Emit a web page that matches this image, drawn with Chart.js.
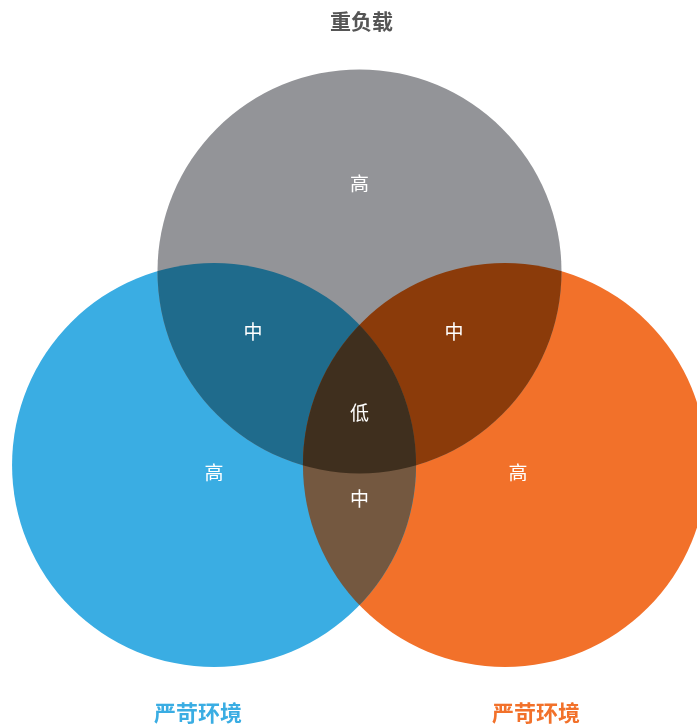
<!DOCTYPE html>
<html>
<head>
<meta charset="utf-8">
<script src="https://cdn.jsdelivr.net/npm/chart.js@4/dist/chart.umd.min.js"></script>
<style>
  html, body { margin: 0; padding: 0; background: #ffffff; }
  #wrap { width: 697px; height: 727px; position: relative; }
</style>
</head>
<body>
<div id="wrap"><canvas id="c"></canvas></div>
<script>
// ---- Data (Venn units: circle radius = 1) ----
const circleNames  = ['重负载', '严苛环境', '严苛环境'];
const circleX      = [0, -0.72, 0.72];
const circleY      = [0.958, 0, 0];
const circleR      = [1, 1, 1];
const circleColors = ['#939498', '#3AADE3', '#F2712A'];

// pairwise overlaps and centre
const pairs        = [[0, 1], [0, 2], [1, 2]];
const pairColors   = ['#1F6B8C', '#8B3B0A', '#745840'];
const centreColor  = '#3F2F1E';

// region labels
const regionLabels = ['高', '高', '高', '中', '中', '中', '低'];
const regionX      = [0, -0.72, 0.785, -0.527, 0.468, 0, 0];
const regionY      = [1.391, -0.04, -0.04, 0.658, 0.658, -0.168, 0.257];

// set name label anchors
const nameX        = [0.01, -0.80, 0.874];
const nameY        = [2.198, -1.228, -1.228];
const nameColors   = ['#555555', '#3AADE3', '#F2712A'];

const FONT = '"Noto Sans CJK SC", "Noto Sans", sans-serif';

function radiusPx(chart, r) {
  const s = chart.scales.x;
  return Math.abs(s.getPixelForValue(r) - s.getPixelForValue(0));
}
function circlePath(chart, i) {
  const ctx = chart.ctx;
  const cx = chart.scales.x.getPixelForValue(circleX[i]);
  const cy = chart.scales.y.getPixelForValue(circleY[i]);
  ctx.beginPath();
  ctx.arc(cx, cy, radiusPx(chart, circleR[i]), 0, Math.PI * 2);
  ctx.closePath();
}

const vennPlugin = {
  id: 'venn',
  afterDatasetsDraw(chart) {
    const ctx = chart.ctx;
    const xs = chart.scales.x, ys = chart.scales.y;
    // pair overlaps
    pairs.forEach((p, k) => {
      ctx.save();
      circlePath(chart, p[0]);
      ctx.clip();
      circlePath(chart, p[1]);
      ctx.fillStyle = pairColors[k];
      ctx.fill();
      ctx.restore();
    });
    // centre
    ctx.save();
    circlePath(chart, 0); ctx.clip();
    circlePath(chart, 1); ctx.clip();
    circlePath(chart, 2);
    ctx.fillStyle = centreColor;
    ctx.fill();
    ctx.restore();

    // region labels
    ctx.save();
    ctx.textAlign = 'center';
    ctx.textBaseline = 'middle';
    ctx.fillStyle = '#ffffff';
    ctx.font = '19px ' + FONT;
    regionLabels.forEach((t, i) => {
      ctx.fillText(t, xs.getPixelForValue(regionX[i]), ys.getPixelForValue(regionY[i]));
    });
    // set names
    circleNames.forEach((t, i) => {
      ctx.fillStyle = nameColors[i];
      ctx.font = (i === 0 ? 'bold 21px ' : 'bold 22px ') + FONT;
      ctx.fillText(t, xs.getPixelForValue(nameX[i]), ys.getPixelForValue(nameY[i]));
    });
    ctx.restore();
  }
};

const datasets = circleNames.map((n, i) => ({
  label: n,
  data: [{ x: circleX[i], y: circleY[i] }],
  backgroundColor: circleColors[i],
  borderWidth: 0,
  pointBackgroundColor: circleColors[i],
  pointBorderWidth: 0,
  pointRadius: (c) => radiusPx(c.chart, circleR[i]),
  pointHoverRadius: (c) => radiusPx(c.chart, circleR[i]),
  clip: false,
  showLine: false
}));

new Chart(document.getElementById('c'), {
  type: 'scatter',
  data: { datasets },
  options: {
    responsive: true,
    maintainAspectRatio: false,
    animation: false,
    events: [],
    layout: { padding: 0 },
    scales: {
      x: { type: 'linear', display: false, min: -1.7797, max: 1.6708 },
      y: { type: 'linear', display: false, min: -1.297, max: 2.302 }
    },
    plugins: { legend: { display: false }, tooltip: { enabled: false } }
  },
  plugins: [vennPlugin]
});
</script>
</body>
</html>
